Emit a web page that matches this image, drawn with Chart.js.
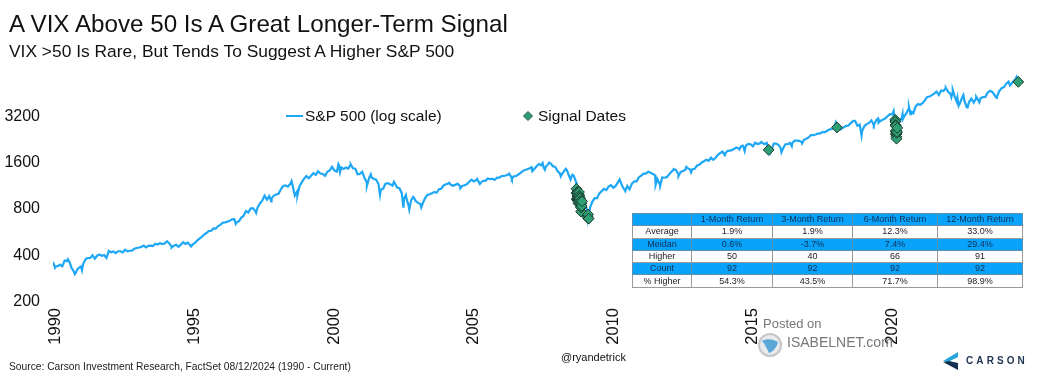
<!DOCTYPE html>
<html><head><meta charset="utf-8">
<script src="https://cdn.jsdelivr.net/npm/chart.js@4"></script>
<style>
html,body{margin:0;padding:0;background:#fff}
body{width:1040px;height:380px;position:relative;overflow:hidden;font-family:"Liberation Sans",Arial,sans-serif;color:#111}
canvas{position:absolute;left:0;top:0}
.t{position:absolute;white-space:nowrap;line-height:1}
table{position:absolute;left:632px;top:213px;width:390px;height:74px;border-collapse:collapse;table-layout:fixed;font-size:9px;color:#222}
td{border:1px solid #9a9a9a;text-align:center;padding:0;height:11.3px;line-height:11px;overflow:hidden}
tr.b td{background:#0aa3fb;color:#0e2f4f;border-color:#5f8fb0}
</style></head><body>
<canvas id="c" width="1040" height="380"></canvas>
<div class="t" style="left:9px;top:12px;font-size:24.2px">A VIX Above 50 Is A Great Longer-Term Signal</div>
<div class="t" style="left:9px;top:43px;font-size:17.4px">VIX &gt;50 Is Rare, But Tends To Suggest A Higher S&amp;P 500</div>
<svg style="position:absolute;left:286px;top:106px" width="18" height="20"><line x1="0" x2="17" y1="10" y2="10" stroke="#1ea7f5" stroke-width="2"/></svg>
<div class="t" style="left:305px;top:108px;font-size:15.5px">S&amp;P 500 (log scale)</div>
<svg style="position:absolute;left:522px;top:109px" width="12" height="14"><path d="M6 2.5L10.5 7L6 11.5L1.5 7Z" fill="#2e9e73" stroke="#24584a"/></svg>
<div class="t" style="left:538px;top:108px;font-size:15.5px">Signal Dates</div>
<table id="tb"></table>
<div class="t" style="left:9px;top:362px;font-size:10.25px;color:#222">Source: Carson Investment Research, FactSet 08/12/2024 (1990 - Current)</div>
<div class="t" style="left:561px;top:352px;font-size:11px;color:#111">@ryandetrick</div>
<div class="t" style="left:763px;top:317px;font-size:13px;color:#777">Posted on</div>
<div class="t" style="left:787px;top:335px;font-size:14px;color:#777">ISABELNET.com</div>
<svg style="position:absolute;left:757px;top:332px" width="26" height="26"><circle cx="13" cy="13" r="11" fill="#e9eaec" stroke="#c4c6c9" stroke-width="2"/><path d="M5 9C9 6 17 7 21 10C20 15 16 20 12 21C10 17 8 12 5 9Z" fill="#5aa7d8"/></svg>
<svg style="position:absolute;left:942px;top:352px" width="20" height="18"><path d="M16 0L1 9L6 10L16 5Z" fill="#29a5de"/><path d="M1 10L16 18L16 11L7 9Z" fill="#12304f"/></svg>
<div class="t" style="left:966px;top:356px;font-size:10px;font-weight:bold;letter-spacing:3.1px;color:#1d3350">CARSON</div>
<script>
const tableHeader=["","1-Month Return","3-Month Return","6-Month Return","12-Month Return"];
const tableRows=[["Average","1.9%","1.9%","12.3%","33.0%"],["Meidan","0.6%","-3.7%","7.4%","29.4%"],["Higher","50","40","66","91"],["Count","92","92","92","92"],["% Higher","54.3%","43.5%","71.7%","98.9%"]];
const yTicks=[200,400,800,1600,3200];
const xTicks=[1990,1995,2000,2005,2010,2015,2020];
// month-end levels from the start of 1990
const spxMonthly=[353.4,
329,332,340,331,361,358,356,323,306,304,322,330,
344,367,375,375,390,371,388,395,388,392,375,417,
409,413,404,415,415,408,424,414,418,419,431,436,
439,443,452,440,450,451,448,464,459,468,462,466,
482,467,446,451,457,444,458,475,463,472,454,459,
470,487,501,515,533,545,562,562,584,582,605,616,
636,640,646,654,669,671,640,652,687,705,757,741,
786,791,757,801,848,885,954,899,947,915,955,970,
980,1049,1102,1112,1091,1134,1121,957,1017,1099,1164,1229,
1280,1238,1286,1335,1302,1373,1329,1320,1283,1363,1389,1469,
1394,1366,1499,1452,1421,1455,1431,1518,1437,1429,1315,1320,
1366,1240,1160,1249,1256,1224,1211,1134,1041,1060,1139,1148,
1130,1107,1147,1077,1067,990,912,916,815,886,936,880,
856,841,849,917,964,975,990,1008,996,1051,1058,1112,
1131,1145,1126,1107,1121,1141,1102,1104,1115,1130,1174,1212,
1181,1204,1181,1157,1192,1191,1234,1220,1229,1207,1249,1248,
1280,1281,1295,1311,1270,1270,1277,1304,1336,1378,1401,1418,
1438,1407,1421,1482,1531,1503,1455,1474,1527,1549,1481,1468,
1379,1331,1323,1386,1400,1280,1267,1283,1166,969,896,903,
826,735,798,873,919,919,987,1021,1057,1036,1096,1115,
1074,1104,1169,1187,1089,1031,1102,1049,1141,1183,1181,1258,
1286,1327,1326,1364,1345,1321,1292,1219,1131,1253,1247,1258,
1312,1366,1408,1398,1310,1362,1379,1407,1441,1412,1416,1426,
1498,1515,1569,1598,1631,1606,1686,1633,1682,1757,1806,1848,
1783,1859,1872,1884,1924,1960,1931,2003,1972,2018,2068,2059,
1995,2105,2068,2086,2107,2063,2104,1972,1920,2079,2080,2044,
1940,1932,2060,2065,2097,2099,2174,2171,2168,2126,2199,2239,
2279,2364,2363,2384,2412,2423,2470,2472,2519,2575,2585,2674,
2824,2714,2641,2648,2705,2718,2816,2902,2914,2712,2760,2507,
2704,2784,2834,2946,2752,2942,2980,2926,2977,3038,3141,3231,
3226,2954,2585,2912,3044,3100,3271,3500,3363,3270,3622,3756,
3714,3811,3973,4181,4204,4298,4395,4523,4308,4605,4567,4766,
4516,4374,4530,4132,4132,3785,4130,3955,3586,3872,4080,3840,
4077,3970,4109,4169,4180,4450,4589,4508,4288,4194,4568,4770,
4846,5096,5254,5036,5278,5460,5522];
// swing highs and lows between month ends
const swingYears=[1990.07,1990.53,1990.78,1990.87,1991.04,1991.2,1994.09,1994.25,1994.95,1996.55,1997.28,1997.82,1998.55,1998.76,2000.17,2000.23,2000.29,2000.67,2001.25,2001.39,2001.72,2002.22,2002.56,2002.65,2002.77,2002.91,2003.2,2004.2,2004.6,2005.2,2005.3,2006.35,2006.45,2007.15,2007.18,2007.55,2007.63,2007.78,2008.2,2008.38,2008.55,2008.62,2008.77,2008.82,2008.885,2009.0,2009.18,2010.31,2010.51,2011.6,2011.76,2012.25,2012.42,2012.7,2012.87,2014.08,2014.6,2014.72,2014.79,2015.39,2015.65,2015.75,2016.11,2016.48,2016.85,2018.06,2018.1,2018.25,2018.73,2018.98,2019.42,2019.57,2019.6,2020.13,2020.225,2020.45,2020.46,2020.68,2020.73,2022.0,2022.2,2022.25,2022.39,2022.46,2022.63,2022.78,2023.09,2023.2,2023.82,2024.3,2024.54,2024.6,2024.61];
const swingValues=[325,368,295,316,312,373,482,438,446,626,737,876,1186,959,1346,1527,1356,1523,1103,1312,965,1170,797,962,776,938,800,1157,1063,1225,1137,1325,1223,1459,1374,1553,1406,1565,1273,1426,1214,1305,899,848,752,934,676,1217,1022,1119,1099,1419,1278,1466,1353,1741,1909,2019,1862,2131,1868,1882,1829,2000,2085,2873,2581,2588,2930,2351,2744,3025,2840,3386,2237,3232,3002,3580,3237,4797,4170,4631,3901,3667,4305,3577,4180,3855,4117,4967,5667,5186,5344];
const signalYears=[2008.76,2008.77,2008.773,2008.776,2008.78,2008.785,2008.79,2008.795,2008.80,2008.805,2008.81,2008.815,2008.82,2008.825,2008.83,2008.835,2008.84,2008.85,2008.855,2008.86,2008.865,2008.87,2008.875,2008.88,2008.885,2008.89,2008.90,2008.92,2008.925,2008.93,2008.94,2008.95,2008.96,2009.16,2009.17,2009.18,2009.2,2015.65,2018.1,2020.185,2020.19,2020.195,2020.2,2020.205,2020.21,2020.213,2020.216,2020.22,2020.225,2020.23,2020.235,2020.24,2020.25,2020.26,2024.6];
const signalValues=[1056,996,985,910,899,1003,998,907,946,940,985,955,896,908,876,848,940,968,1005,952,904,930,898,852,911,873,850,806,752,800,851,816,876,700,682,720,676,1893,2649,2972,2882,2746,2741,2481,2711,2386,2529,2398,2409,2305,2237,2447,2475,2630,5240];

const linePts=spxMonthly.map((v,i)=>({x:1990+i/12,y:v})).concat(swingYears.map((x,i)=>({x,y:swingValues[i]}))).sort((a,b)=>a.x-b.x);
const sigPts=signalYears.map((x,i)=>({x,y:signalValues[i]}));

const tb=document.getElementById('tb');
const addRow=(cells,cls)=>{const tr=document.createElement('tr');if(cls)tr.className=cls;cells.forEach(c=>{const td=document.createElement('td');td.textContent=c;tr.appendChild(td)});tb.appendChild(tr)};
const cg=document.createElement('colgroup');[59,81,80,85,85].forEach(w=>{const c=document.createElement('col');c.style.width=w+'px';cg.appendChild(c)});tb.appendChild(cg);
addRow(tableHeader,'b');tableRows.forEach((r,i)=>addRow(r,i%2?'b':''));

new Chart(document.getElementById('c'),{
 type:'line',
 data:{datasets:[
  {label:'S&P 500 (log scale)',data:linePts,borderColor:'#1ea7f5',borderWidth:2.2,pointRadius:0,tension:0,order:2},
  {label:'Signal Dates',data:sigPts,type:'scatter',pointStyle:'rectRot',pointRadius:5.4,backgroundColor:'#2e9e73',borderColor:'#1c3a30',borderWidth:1,showLine:false,order:1}
 ]},
 options:{responsive:false,animation:false,parsing:true,
  layout:{padding:{top:68.5,bottom:30,left:0,right:10.5}},
  plugins:{legend:{display:false},tooltip:{enabled:false}},
  scales:{
   x:{type:'linear',min:1990,max:2025,grid:{display:false},border:{display:false},
      afterBuildTicks:s=>{s.ticks=xTicks.map(v=>({value:v}))},
      afterFit:s=>{s.height=50},
      ticks:{autoSkip:false,minRotation:90,maxRotation:90,padding:0,labelOffset:2,color:'#111',font:{family:'"Liberation Sans"',size:16.5},callback:v=>String(v)}},
   y:{type:'logarithmic',min:200,max:6400,grid:{display:false},border:{display:false},
      afterBuildTicks:s=>{s.ticks=yTicks.map(v=>({value:v}))},
      afterFit:s=>{s.width=53},
      ticks:{padding:5,labelOffset:1.5,color:'#111',font:{family:'"Liberation Sans"',size:16},callback:v=>String(v)}}
  }
 }
});
</script>
</body></html>
